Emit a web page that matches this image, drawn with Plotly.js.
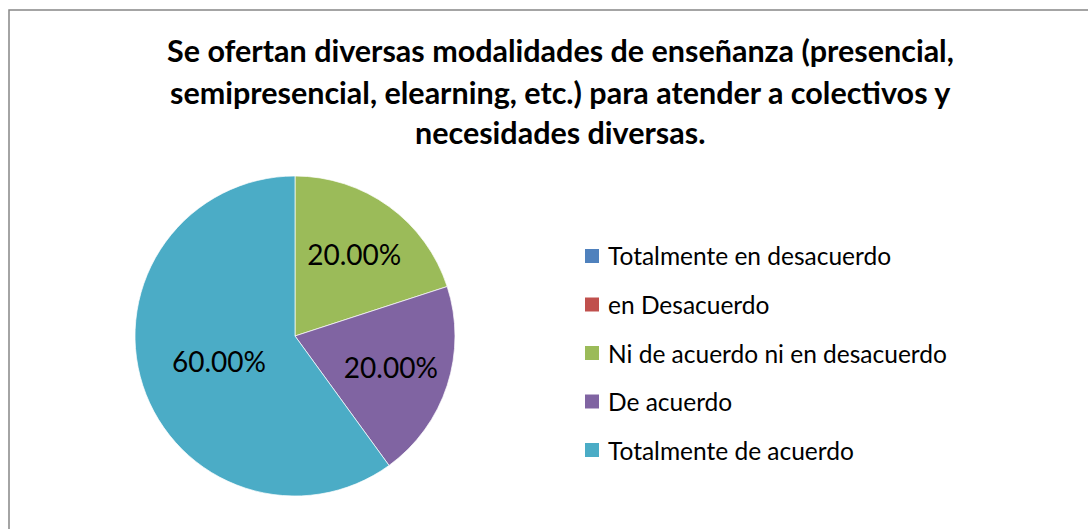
<!DOCTYPE html>
<html>
<head>
<meta charset="utf-8">
<script src="https://cdn.plot.ly/plotly-3.0.1.min.js"></script>
<style>html,body{margin:0;padding:0;background:#fff;}#chart{width:1088px;height:529px;}</style>
</head>
<body>
<div id="chart"></div>
<script>
const categories = ["Totalmente en desacuerdo", "en Desacuerdo", "Ni de acuerdo ni en desacuerdo", "De acuerdo", "Totalmente de acuerdo"];
const values = [0, 0, 20, 20, 60];
const colors = ["#4F81BD", "#C0504D", "#9BBB59", "#8064A2", "#4BACC6"];
const titleLines = [
  "Se ofertan diversas modalidades de enseñanza (presencial,",
  "semipresencial, elearning, etc.) para atender a colectivos y",
  "necesidades diversas."
];

const W = 1088, H = 529;
const font = "Lato, 'Open Sans', sans-serif";

const annotations = [];
const shapes = [];

// chart border
shapes.push({type: "rect", xref: "paper", yref: "paper",
  x0: 9 / W, x1: 1.02, y0: -0.02, y1: 1 - 10 / H,
  line: {color: "#878787", width: 1.5}, fillcolor: "rgba(0,0,0,0)"});

// title lines
const titleY = [50, 92, 132];
titleLines.forEach((t, i) => {
  annotations.push({xref: "paper", yref: "paper", x: 560 / W, y: 1 - titleY[i] / H,
    text: "<b>" + t + "</b>", showarrow: false, xanchor: "center", yanchor: "middle",
    font: {family: font, size: 30.5, color: "#000"}});
});

// legend
const legX = 585, legY0 = 256, legDy = 48.5, sq = 14;
categories.forEach((c, i) => {
  const y = legY0 + i * legDy;
  shapes.push({type: "rect", xref: "paper", yref: "paper",
    x0: legX / W, x1: (legX + sq) / W, y0: 1 - (y + sq / 2) / H, y1: 1 - (y - sq / 2) / H,
    line: {width: 0}, fillcolor: colors[i]});
  annotations.push({xref: "paper", yref: "paper", x: (legX + sq + 7) / W, y: 1 - y / H,
    text: c, showarrow: false, xanchor: "left", yanchor: "middle",
    font: {family: font, size: 24.5, color: "#000"}});
});

const cx = 295, cy = 336, r = 160;
const data = [{
  type: "pie",
  labels: categories,
  values: values,
  sort: false,
  direction: "clockwise",
  rotation: 0,
  marker: {colors: colors, line: {color: "#ffffff", width: 0.7}},
  texttemplate: values.map(v => v > 0 ? "%{percent:.2%}" : ""),
  textposition: "inside",
  insidetextorientation: "horizontal",
  textfont: {family: font, size: 28, color: "#000"},
  hoverinfo: "label+percent",
  showlegend: false,
  domain: {x: [(cx - r) / W, (cx + r) / W], y: [1 - (cy + r) / H, 1 - (cy - r) / H]}
}];

const layout = {
  width: W, height: H,
  margin: {l: 0, r: 0, t: 0, b: 0},
  paper_bgcolor: "#fff",
  showlegend: false,
  annotations: annotations,
  shapes: shapes
};

Plotly.newPlot("chart", data, layout, {displayModeBar: false, staticPlot: true});
</script>
</body>
</html>
